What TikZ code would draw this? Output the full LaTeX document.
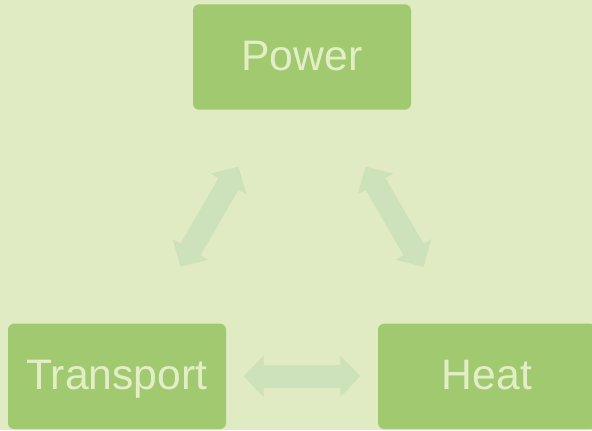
\documentclass[tikz,border=0pt]{standalone}
\usepackage{fontspec}
\setmainfont{Liberation Sans}
\usepackage{xcolor}
\usepackage{tikz}
\usetikzlibrary{arrows.meta,positioning}

\definecolor{bgGreen}{HTML}{E1EBC3}
\definecolor{boxGreen}{HTML}{A1C970}
\definecolor{txtGreen}{HTML}{E3EEC7}
\definecolor{arrGreen}{HTML}{CDE1BA}

\begin{document}
\begin{tikzpicture}[x=0.75pt, y=-0.75pt,
    block/.style={rectangle, fill=boxGreen, text=txtGreen, rounded corners=4.5pt,
        minimum width=163.5pt, minimum height=79pt, inner sep=0pt, outer sep=0pt,
        text height=23pt, text depth=3pt, font=\fontsize{32}{38}\selectfont},
    line/.style={draw=arrGreen, line width=17.25pt,
        {Triangle[width=30pt, length=15pt]}-{Triangle[width=30pt, length=15pt]},
        shorten >=95pt, shorten <=95pt}]

    \useasboundingbox (0,0) rectangle (592,430);
    \clip (0,0) rectangle (592,430);
    \fill[bgGreen] (0,0) rectangle (592,430);

    \node [block] at (302,57) (power) {Power};
    \node [block, below left=160.5pt and -24.75pt of power] (transport) {Transport};
    \node [block, below right=160.5pt and -24.75pt of power] (heat) {Heat};

    \path [line] (power.center) -- (transport.center);
    \path [line] (power.center) -- (heat.center);
    \path [line] (transport.center) -- (heat.center);
\end{tikzpicture}
\end{document}
